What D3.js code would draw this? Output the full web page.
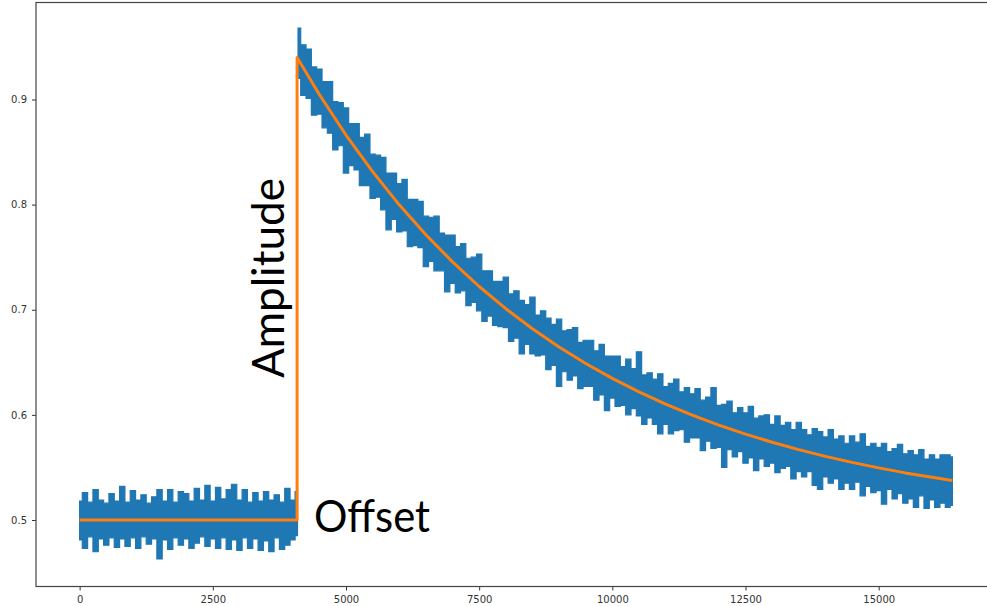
<!DOCTYPE html>
<html>
<head>
<meta charset="utf-8">
<script src="https://cdn.jsdelivr.net/npm/d3@7"></script>
<style>
  html, body { margin: 0; padding: 0; background: #fff; overflow: hidden; }
  svg { display: block; }
</style>
</head>
<body>
<svg id="chart" width="987" height="606"></svg>
<script>
// ---------------- DATA ----------------
const xTicks = [0, 2500, 5000, 7500, 10000, 12500, 15000];
const yTicks = [0.5, 0.6, 0.7, 0.8, 0.9];

// Noisy measurement: sample grid and the band (upper / lower envelope) of the blue trace
const flatX = d3.range(0, 4001, 100).concat([4090]);
const flatUpper = [0.518,0.526,0.517,0.529,0.519,0.516,0.525,0.518,0.532,0.517,0.528,0.519,0.524,0.516,0.522,0.529,0.518,0.529,0.517,0.527,0.525,0.518,0.530,0.519,0.533,0.518,0.531,0.520,0.529,0.534,0.519,0.529,0.517,0.526,0.518,0.527,0.519,0.524,0.517,0.530,0.519,0.527];
const flatLower = [0.481,0.473,0.484,0.470,0.482,0.476,0.483,0.474,0.482,0.475,0.483,0.473,0.484,0.477,0.482,0.463,0.481,0.472,0.483,0.476,0.482,0.473,0.478,0.484,0.475,0.482,0.473,0.483,0.472,0.481,0.471,0.483,0.473,0.482,0.471,0.480,0.470,0.483,0.472,0.476,0.481,0.485];

const decayX = d3.range(4100, 16301, 100).concat([16383]);
const decayUpper = [0.968,0.952,0.948,0.931,0.929,0.917,0.917,0.898,0.897,0.892,
  0.877,0.877,0.864,0.867,0.848,0.847,0.845,0.830,0.830,0.820,
  0.824,0.805,0.805,0.803,0.789,0.788,0.789,0.773,0.771,0.771,
  0.760,0.763,0.749,0.750,0.753,0.737,0.737,0.727,0.727,0.731,
  0.715,0.718,0.709,0.705,0.712,0.695,0.699,0.692,0.686,0.691,
  0.680,0.681,0.683,0.669,0.671,0.671,0.661,0.667,0.656,0.656,
  0.656,0.646,0.653,0.644,0.660,0.638,0.640,0.634,0.639,0.627,
  0.630,0.634,0.622,0.626,0.620,0.625,0.614,0.617,0.626,0.609,
  0.610,0.613,0.602,0.607,0.602,0.608,0.597,0.599,0.600,0.591,
  0.599,0.590,0.593,0.586,0.593,0.586,0.581,0.587,0.584,0.579,
  0.586,0.577,0.580,0.573,0.580,0.574,0.582,0.570,0.573,0.569,
  0.573,0.565,0.568,0.572,0.563,0.566,0.562,0.567,0.558,0.562,
  0.558,0.562,0.562,0.560];
const decayLower = [0.920,0.904,0.901,0.885,0.886,0.873,0.868,0.852,0.856,0.830,
  0.837,0.833,0.818,0.818,0.806,0.807,0.795,0.776,0.786,0.774,
  0.775,0.760,0.761,0.759,0.741,0.746,0.737,0.737,0.717,0.725,
  0.716,0.718,0.704,0.707,0.699,0.689,0.694,0.685,0.684,0.683,
  0.670,0.673,0.658,0.667,0.658,0.656,0.657,0.643,0.647,0.627,
  0.641,0.633,0.637,0.625,0.627,0.627,0.614,0.619,0.604,0.616,
  0.608,0.609,0.600,0.606,0.599,0.591,0.597,0.591,0.582,0.591,
  0.582,0.585,0.586,0.574,0.578,0.578,0.566,0.575,0.568,0.569,
  0.550,0.567,0.560,0.565,0.554,0.559,0.547,0.558,0.551,0.554,
  0.545,0.549,0.551,0.539,0.546,0.541,0.546,0.533,0.529,0.541,
  0.535,0.539,0.529,0.535,0.529,0.536,0.523,0.532,0.526,0.528,
  0.515,0.529,0.520,0.525,0.516,0.520,0.512,0.523,0.511,0.519,
  0.512,0.516,0.512,0.514];

// Fitted model (orange): offset, step, exponential decay
const fitX = [0, 4082, 4082, 4500, 5000, 5500, 6000, 6500, 7000, 7500, 8000, 8500, 9000, 9500, 10000, 10500, 11000, 11500, 12000, 12500, 13000, 13500, 14000, 14500, 15000, 15500, 16000, 16383];
const fitY = [0.500, 0.500, 0.9400, 0.9047, 0.8662, 0.8314, 0.7998, 0.7713, 0.7455, 0.7221, 0.7010, 0.6819, 0.6646, 0.6489, 0.6347, 0.6219, 0.6103, 0.5998, 0.5903, 0.5817, 0.5739, 0.5669, 0.5605, 0.5548, 0.5496, 0.5448, 0.5406, 0.5376];

const annotations = ["Amplitude", "Offset"];

// ---------------- LAYOUT ----------------
const svg = d3.select("#chart");
const L = 36, R = 996, T = 2.5, B = 586.5;

const x = d3.scaleLinear().domain([-819, 17202]).range([L, R]);
const y = d3.scaleLinear().domain([0.43674, 0.99226]).range([B, T]);

const blue = "#1f77b4", orange = "#ff7f0e";

// blue noisy band
const flatBand = flatX.map((v, i) => ({x: v, hi: flatUpper[i], lo: flatLower[i]}));
const decayBand = decayX.map((v, i) => ({x: v, hi: decayUpper[i], lo: decayLower[i]}));

const area = d3.area()
  .curve(d3.curveStep)
  .x(d => x(d.x))
  .y0(d => y(d.lo))
  .y1(d => y(d.hi));

[flatBand, decayBand].forEach(band => {
  svg.append("path")
    .datum(band)
    .attr("d", area)
    .attr("fill", blue)
    .attr("stroke", blue)
    .attr("stroke-width", 1.2)
    .attr("stroke-linejoin", "miter");
});

// orange fit line
const fitData = fitX.map((v, i) => ({x: v, y: fitY[i]}));
svg.append("path")
  .datum(fitData)
  .attr("d", d3.line().x(d => x(d.x)).y(d => y(d.y)))
  .attr("fill", "none")
  .attr("stroke", orange)
  .attr("stroke-width", 3)
  .attr("stroke-linejoin", "round");

// axes
const xAxis = d3.axisBottom(x).tickValues(xTicks).tickSize(4).tickPadding(5).tickFormat(d3.format("d"));
const yAxis = d3.axisLeft(y).tickValues(yTicks).tickSize(4).tickPadding(5).tickFormat(d3.format(".1f"));

const gx = svg.append("g").attr("transform", `translate(0,${B})`).call(xAxis);
const gy = svg.append("g").attr("transform", `translate(${L},0)`).call(yAxis);
[gx, gy].forEach(g => {
  g.select(".domain").remove();
  g.selectAll(".tick line").attr("stroke", "#333").attr("stroke-width", 1);
  g.selectAll(".tick text")
    .attr("fill", "#333")
    .style("font-family", "'DejaVu Sans', sans-serif")
    .style("font-size", "10px");
});

// frame (spines)
svg.append("rect")
  .attr("x", L).attr("y", T)
  .attr("width", R - L).attr("height", B - T)
  .attr("fill", "none")
  .attr("stroke", "#444")
  .attr("stroke-width", 1.2);

// annotations
svg.append("text")
  .attr("transform", `translate(284,378) rotate(-90)`)
  .attr("x", 0).attr("y", 0)
  .attr("textLength", 200)
  .attr("lengthAdjust", "spacingAndGlyphs")
  .style("font-family", "Lato, 'Open Sans', sans-serif")
  .style("font-size", "44px")
  .attr("fill", "#000")
  .text(annotations[0]);

svg.append("text")
  .attr("x", 314).attr("y", 531.5)
  .attr("textLength", 116)
  .attr("lengthAdjust", "spacingAndGlyphs")
  .style("font-family", "Lato, 'Open Sans', sans-serif")
  .style("font-size", "44px")
  .attr("fill", "#000")
  .text(annotations[1]);
</script>
</body>
</html>
